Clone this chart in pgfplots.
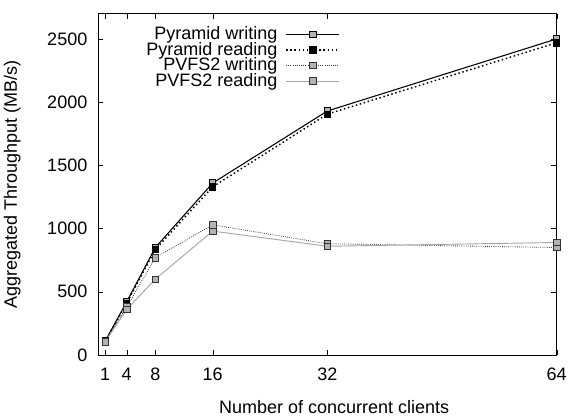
\documentclass[border=0pt]{standalone}
\usepackage{pgfplots}
\pgfplotsset{compat=1.18}
\usepackage{fontspec}
\setmainfont{Liberation Sans}
\begin{document}
\begin{tikzpicture}[x=1pt,y=1pt]
\path[use as bounding box] (0,0) rectangle (432,312);
\begin{axis}[
  at={(73.5pt,45.75pt)}, anchor=south west,
  scale only axis, width=344pt, height=256pt,
  xmin=0, xmax=64, ymin=0, ymax=2700,
  xtick={1,4,8,16,32,64},
  ytick={0,500,1000,1500,2000,2500},
  tick align=inside, tick pos=both,
  tick style={black, major tick length=4pt},
  yticklabel style={/pgf/number format/1000 sep=, xshift=-4.5pt},
  /pgf/number format/assume math mode=true,
  font=\fontsize{13.5}{15}\selectfont,
  xticklabel style={yshift=-6.5pt},
  xlabel={Number of concurrent clients},
  ylabel={Aggregated Throughput (MB/s)},
  xlabel style={at={(axis description cs:0.515,0)}, anchor=center, yshift=-39pt},
  ylabel style={at={(axis description cs:-0.187,0.5)}, anchor=center},
  legend style={draw=none, fill=none, at={(axis cs:34.0,2630)}, anchor=north east, row sep=-3.6pt, inner sep=1pt, font=\fontsize{13.5}{15}\selectfont,
    /tikz/every odd column/.append style={column sep=4pt}},
  legend cell align=right, legend plot pos=right,
  legend image code/.code={\draw[mark repeat=2,mark phase=2] plot coordinates {(0cm,0cm)(0.7cm,0cm)(1.4cm,0cm)};},
  every axis plot/.append style={mark size=2.4pt},
]
\addplot[black, line width=0.8pt, mark=square*, mark options={solid, fill=gray!60, line width=0.6pt}] coordinates {(1,110)(4,420)(8,850)(16,1360)(32,1930)(64,2500)};
\addlegendentry{Pyramid writing}
\addplot[black, line width=1.1pt, dotted, mark=square*, mark options={solid, fill=black, line width=0.6pt}] coordinates {(1,105)(4,410)(8,835)(16,1330)(32,1905)(64,2470)};
\addlegendentry{Pyramid reading}
\addplot[black!80, line width=0.6pt, densely dotted, mark=square*, mark options={solid, fill=gray!60, line width=0.5pt}] coordinates {(1,110)(4,380)(8,770)(16,1030)(32,880)(64,850)};
\addlegendentry{PVFS2 writing}
\addplot[gray!70, line width=0.7pt, mark=square*, mark options={solid, draw=black!80, fill=gray!60, line width=0.5pt}] coordinates {(1,105)(4,360)(8,600)(16,980)(32,860)(64,890)};
\addlegendentry{PVFS2 reading}
\end{axis}
\end{tikzpicture}
\end{document}
